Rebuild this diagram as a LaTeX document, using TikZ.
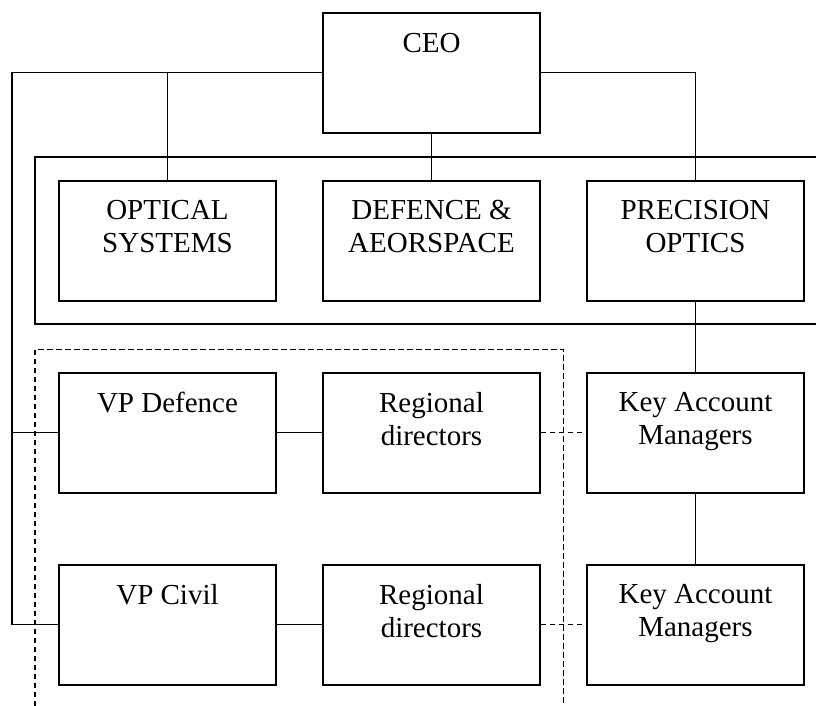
\documentclass[tikz,border=0pt]{standalone}
\usepackage{fontspec}
\setmainfont{Liberation Serif}
\begin{document}
\begin{tikzpicture}[x=1pt,y=-1pt,line width=1.5pt,
  box/.style={draw, rectangle, minimum width=217pt, minimum height=120pt, inner sep=0pt, line width=1.8pt},
  txt/.style={anchor=north, align=center, inner sep=0pt, font=\fontsize{29}{33.3}\selectfont, execute at begin node=\rule{0pt}{20pt}},
  dashline/.style={dash pattern=on 5.5pt off 3.5pt}]
\useasboundingbox (0,0) rectangle (816,706);
% boxes
\node[box] (ceo) at (431.5,72.7) {};
\node[box] (opt) at (167.5,240.7) {};
\node[box] (def) at (431.5,240.7) {};
\node[box] (prec) at (695.5,240.7) {};
\node[box] (vpd) at (167.5,432.7) {};
\node[box] (rd1) at (431.5,432.7) {};
\node[box] (kam1) at (695.5,432.7) {};
\node[box] (vpc) at (167.5,624.7) {};
\node[box] (rd2) at (431.5,624.7) {};
\node[box] (kam2) at (695.5,624.7) {};
% texts
\node[txt] (ceo-t) at ([yshift=-19.5pt]ceo.north) {CEO};
\node[txt] (opt-t) at ([yshift=-19.5pt]opt.north) {OPTICAL\\SYSTEMS};
\node[txt] (def-t) at ([yshift=-19.5pt]def.north) {DEFENCE \&\\AEORSPACE};
\node[txt] (prec-t) at ([yshift=-19.5pt]prec.north) {PRECISION\\OPTICS};
\node[txt] (vpd-t) at ([yshift=-19.5pt]vpd.north) {VP Defence};
\node[txt] (rd1-t) at ([yshift=-19.5pt]rd1.north) {Regional\\directors};
\node[txt] (kam1-t) at ([yshift=-19.5pt]kam1.north) {Key Account\\Managers};
\node[txt] (vpc-t) at ([yshift=-19.5pt]vpc.north) {VP Civil};
\node[txt] (rd2-t) at ([yshift=-19.5pt]rd2.north) {Regional\\directors};
\node[txt] (kam2-t) at ([yshift=-19.5pt]kam2.north) {Key Account\\Managers};
% group frames
\draw[line width=1.8pt] (816,156.7) -- (35,156.7) -- (35,324.3) -- (816,324.3);
\draw[line width=1.6pt,dashline] (35,706) -- (35,349.3) -- (563.3,349.3) -- (563.3,706);
% connectors
\coordinate (lt) at (12,72.7);
\draw (ceo.west) -- (lt) |- (vpc.west);
\draw (lt |- vpd.west) -- (vpd.west);
\draw (opt.north) -- (opt.north |- ceo.west);
\draw (ceo.south) -- (def.north);
\draw (ceo.east) -| (prec.north);
\draw (prec.south) -- (kam1.north);
\draw (kam1.south) -- (kam2.north);
\draw (vpd.east) -- (rd1.west);
\draw (vpc.east) -- (rd2.west);
\draw[dashline] (rd1.east) -- (kam1.west);
\draw[dashline] (rd2.east) -- (kam2.west);
\end{tikzpicture}
\end{document}
